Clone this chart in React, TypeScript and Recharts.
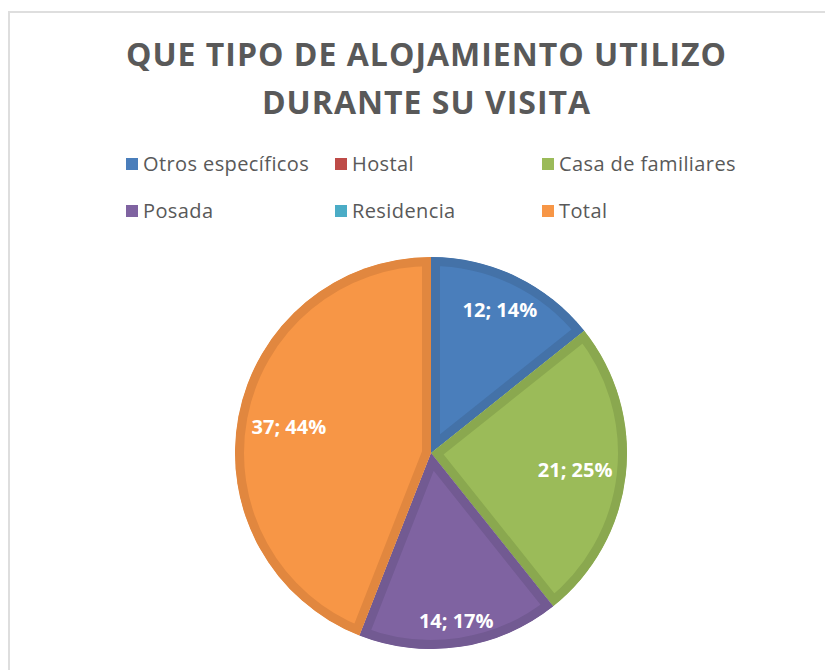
import { PieChart, Pie, Cell, Legend, Sector } from 'recharts';

const categories = ['Otros específicos', 'Hostal', 'Casa de familiares', 'Posada', 'Residencia', 'Total'];
const counts = [12, 0, 21, 14, 0, 37];

const fills = ['#4A7EBB', '#BE4B48', '#9BBB59', '#7F63A1', '#4BACC6', '#F79646'];
const borders = ['#4472A8', '#A9403D', '#8AA84F', '#725A92', '#3F98AF', '#E1873F'];

const data = categories.map((name, i) => ({ name, value: counts[i] }));

const RADIAN = Math.PI / 180;

const renderSector = (props: any) => {
  const { cx, cy, innerRadius, outerRadius, startAngle, endAngle, index } = props;
  const id = `slice-clip-${index}`;
  return (
    <g>
      <defs>
        <clipPath id={id}>
          <Sector cx={cx} cy={cy} innerRadius={innerRadius} outerRadius={outerRadius} startAngle={startAngle} endAngle={endAngle} />
        </clipPath>
      </defs>
      <Sector
        cx={cx}
        cy={cy}
        innerRadius={innerRadius}
        outerRadius={outerRadius}
        startAngle={startAngle}
        endAngle={endAngle}
        fill={fills[index]}
        stroke={borders[index]}
        strokeWidth={18}
        clipPath={`url(#${id})`}
      />
    </g>
  );
};

const renderLabel = (props: any) => {
  const { cx, cy, midAngle, value, percent } = props;
  if (!value) return null;
  const c = Math.cos(-midAngle * RADIAN);
  const s = Math.sin(-midAngle * RADIAN);
  const r = 186 - (Math.abs(c) * 40 + Math.abs(s) * 11);
  return (
    <text
      x={cx + r * c}
      y={cy + r * s}
      fill="#ffffff"
      textAnchor="middle"
      dominantBaseline="central"
      style={{ fontFamily: 'Open Sans', fontWeight: 700, fontSize: 20 }}
    >
      {`${value}; ${Math.round(percent * 100)}%`}
    </text>
  );
};

const colWidths = [209, 207, 200];

// legend keeps the series order (recharts sorts it by name otherwise)
const renderLegend = () => (
  <div style={{ display: 'flex', flexWrap: 'wrap', width: 616 }}>
    {categories.map((name, i) => (
      <div
        key={name}
        style={{
          width: colWidths[i % 3],
          height: 47,
          display: 'flex',
          alignItems: 'center',
          fontFamily: 'Open Sans',
          fontSize: 20,
          letterSpacing: 0.4,
          color: '#595959',
          whiteSpace: 'nowrap',
        }}
      >
        <span style={{ width: 12, height: 12, background: fills[i], marginRight: 5, display: 'inline-block', flex: 'none' }} />
        {name}
      </div>
    ))}
  </div>
);

export default function App() {
  return (
    <div style={{ position: 'relative', width: 825, height: 662, background: '#fff', overflow: 'hidden' }}>
      <div
        style={{
          position: 'absolute',
          left: 0,
          top: 3,
          right: -10,
          bottom: -10,
          borderTop: '2px solid #dedede',
          borderLeft: '2px solid #dedede',
        }}
      />
      <div
        style={{
          position: 'absolute',
          left: 6,
          top: 22,
          width: 825,
          textAlign: 'center',
          fontFamily: 'Open Sans',
          fontWeight: 700,
          fontSize: 32,
          letterSpacing: 1,
          lineHeight: '48px',
          color: '#595959',
        }}
      >
        QUE TIPO DE ALOJAMIENTO UTILIZO
        <br />
        DURANTE SU VISITA
      </div>
      <div style={{ position: 'absolute', left: 0, top: 0 }}>
        <PieChart width={825} height={662} margin={{ top: 0, right: 0, bottom: 0, left: 0 }}>
          <Legend
            content={renderLegend}
            wrapperStyle={{ position: 'absolute', left: 118, top: 132, width: 616 }}
          />
          <Pie
            data={data}
            dataKey="value"
            nameKey="name"
            cx={423}
            cy={445}
            outerRadius={196}
            startAngle={90}
            endAngle={-270}
            stroke="none"
            labelLine={false}
            label={renderLabel}
            shape={renderSector}
            isAnimationActive={false}
          >
            {data.map((_, i) => (
              <Cell key={i} fill={fills[i]} />
            ))}
          </Pie>
        </PieChart>
      </div>
    </div>
  );
}
